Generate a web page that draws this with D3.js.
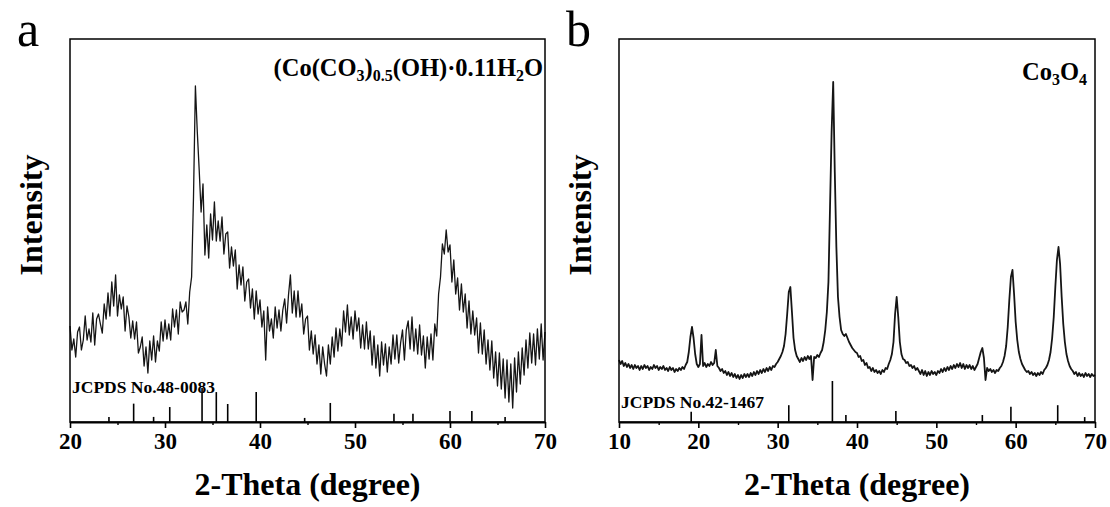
<!DOCTYPE html>
<html>
<head>
  <meta charset="UTF-8">
  <style>
    body { margin: 0; background: #fff; }
    svg { display: block; }
    text { font-family: "Liberation Serif", "Times New Roman", serif; fill: #000; }
    .tick text { font-weight: bold; font-size: 23px; }
  </style>
</head>
<body>
<svg></svg>
<script src="https://d3js.org/d3.v7.min.js"></script>
<script>

let width = 1110, height = 507;

// XRD scan of panel a, 20-70 deg, step 0.2 (one row = 2 deg)
const startA = 20, stepA = 0.2;
const intensityA = [
  96,72,83,65,90,95,72,82,106,82,
  93,80,109,77,103,108,98,89,118,103,
  129,106,140,116,147,106,127,113,125,91,
  116,105,84,101,83,100,69,75,85,56,
  75,49,81,62,86,60,81,71,100,81,
  102,83,98,82,113,95,112,88,120,110,
  112,120,98,130,145,225,336,290,252,210,
  238,167,197,164,208,182,220,181,201,181,
  205,168,188,190,154,175,156,172,133,157,
  137,155,121,140,143,114,133,103,131,108,
  122,95,111,62,115,91,103,84,115,94,
  112,91,112,123,99,127,147,109,131,105,
  131,105,118,88,103,106,72,91,68,87,
  58,77,48,75,58,46,77,58,85,65,
  94,71,93,76,111,90,117,87,105,83,
  111,91,104,74,97,73,100,73,91,57,
  86,54,77,46,80,57,78,50,75,58,
  87,63,87,59,79,92,62,92,101,73,
  105,71,93,68,97,67,86,54,85,63,
  88,62,98,86,128,145,178,168,192,170,
  177,140,162,128,144,112,138,110,128,94,
  121,88,111,87,104,69,99,68,92,58,
  82,52,81,44,70,36,69,33,63,24,
  62,20,58,14,64,30,70,38,74,47,
  82,54,89,59,88,57,93,63,98,62,
  90
];

// XRD scan of panel b, 10-70 deg, step 0.2
const startB = 10, stepB = 0.2;
const intensityB = [
  62,58,61,56,59,55,58,54,57,53,
  57,54,56,52,56,53,57,54,56,52,
  55,53,57,54,56,52,55,53,56,52,
  54,51,55,52,54,50,53,51,54,52,
  55,53,57,60,70,85,95,84,68,58,
  55,58,87,56,59,55,58,56,60,57,
  59,72,56,54,51,53,49,51,47,50,
  46,49,45,48,44,47,43,47,44,48,
  45,48,45,49,46,50,47,51,48,52,
  49,53,50,54,51,55,52,56,55,58,
  60,63,66,70,76,88,108,130,135,110,
  84,72,66,63,60,64,61,65,62,66,
  63,66,42,65,64,67,65,69,72,80,
  92,110,140,215,290,340,250,175,125,105,
  92,88,86,88,84,80,77,74,72,70,
  69,65,66,61,62,57,59,54,55,51,
  54,50,52,49,51,48,52,50,54,53,
  58,62,68,80,108,125,105,80,68,63,
  62,59,60,56,57,54,56,52,54,51,
  48,52,47,51,46,50,47,51,48,50,
  47,51,49,53,50,54,51,55,52,56,
  53,57,54,58,55,59,54,58,53,57,
  54,57,53,56,52,55,58,64,70,74,
  64,42,54,51,53,50,52,49,52,51,
  54,56,60,66,76,95,122,145,152,128,
  100,82,70,63,58,55,52,50,51,48,
  50,47,49,46,49,47,50,48,52,54,
  57,62,70,84,105,135,162,175,158,125,
  98,80,68,61,56,53,51,48,50,46,
  49,46,48,45,49,46,48,45,48,46,
  47
];

// reference patterns (relative intensity, %)
const refA = [24.1, 26.7, 28.8, 30.5, 33.9, 35.4, 36.6, 39.6, 44.7, 47.4, 54.1, 56.1, 60.0, 62.3, 65.8];
const refAI = [15, 54, 15, 44, 100, 88, 53, 88, 12, 56, 24, 24, 32, 32, 15];
const refB = [19.1, 31.4, 36.9, 38.6, 44.9, 55.8, 59.4, 65.3, 68.7];
const refBI = [25, 41, 100, 17, 27, 17, 37, 41, 12];

const panels = [
  { letter: "a", xDomain: [20, 70], left: 70, right: 545, start: startA, step: stepA, values: intensityA,
    lw: 1.3, ref: refA, refI: refAI, refH: 34, card: "JCPDS No.48-0083", cardY: 393 },
  { letter: "b", xDomain: [10, 70], left: 619, right: 1095, start: startB, step: stepB, values: intensityB,
    lw: 1.8, ref: refB, refI: refBI, refH: 41, card: "JCPDS No.42-1467", cardY: 408 }
];

const plotTop = 39, plotBottom = 422;

let svg = d3.select("svg")
    .attr("width", width)
    .attr("height", height);

panels.forEach(p => {
    let x = d3.scaleLinear().domain(p.xDomain).range([p.left, p.right]);
    let y = d3.scaleLinear().domain([0, plotBottom - plotTop]).range([plotBottom, plotTop]);
    let s = d3.scaleLinear().domain([0, 100]).range([plotBottom, plotBottom - p.refH]);

    let g = svg.append("g");
    let pts = p.values.map((v, i) => [p.start + i * p.step, v]);

    g.append("path")
        .datum(pts)
        .attr("fill", "none")
        .attr("stroke", "#151515")
        .attr("stroke-width", p.lw)
        .attr("stroke-linejoin", "round")
        .attr("d", d3.line().x(d => x(d[0])).y(d => y(d[1])));

    // reference sticks
    g.append("g").selectAll("line")
        .data(p.ref)
        .join("line")
        .attr("x1", d => x(d)).attr("x2", d => x(d))
        .attr("y1", plotBottom)
        .attr("y2", (d, i) => s(p.refI[i]))
        .attr("stroke", "#000")
        .attr("stroke-width", 1.6);

    g.append("text")
        .attr("x", p.left + 2)
        .attr("y", p.cardY)
        .attr("font-weight", "bold")
        .attr("font-size", 17.5)
        .text(p.card);

    // frame
    g.append("rect")
        .attr("x", p.left).attr("y", plotTop)
        .attr("width", p.right - p.left).attr("height", plotBottom - plotTop)
        .attr("fill", "none")
        .attr("stroke", "#000")
        .attr("stroke-width", 1.5);

    let xAxis = g.append("g")
        .attr("transform", "translate(0," + plotBottom + ")")
        .call(d3.axisBottom(x).tickValues(d3.range(p.xDomain[0], 71, 10)).tickSize(6).tickSizeOuter(0).tickPadding(5));
    xAxis.select(".domain").attr("stroke-width", 1.8);
    xAxis.selectAll(".tick line").attr("stroke-width", 1.6);

    let minor = g.append("g")
        .attr("transform", "translate(0," + plotBottom + ")")
        .call(d3.axisBottom(x).tickValues(d3.range(p.xDomain[0] + 5, 70, 10)).tickSize(3).tickFormat(""));
    minor.select(".domain").remove();
    minor.selectAll(".tick line").attr("stroke-width", 1.4);

    g.append("text")
        .attr("x", (p.left + p.right) / 2)
        .attr("y", 495)
        .attr("text-anchor", "middle")
        .attr("font-weight", "bold")
        .attr("font-size", 32)
        .text("2-Theta (degree)");

    g.append("text")
        .attr("transform", "translate(" + (p.left - 28) + ",215) rotate(-90)")
        .attr("text-anchor", "middle")
        .attr("font-weight", "bold")
        .attr("font-size", 32)
        .text("Intensity");

    g.append("text")
        .attr("x", p.left - 53)
        .attr("y", 46)
        .attr("font-size", 50)
        .text(p.letter);
});

// sample names with subscripts
function formula(xr, yb, parts) {
    let t = svg.append("text")
        .attr("x", xr).attr("y", yb)
        .attr("text-anchor", "end")
        .attr("font-weight", "bold")
        .attr("font-size", 24.5);
    parts.forEach(([str, sub]) => {
        let ts = t.append("tspan").text(str);
        if (sub) ts.attr("font-size", 16).attr("baseline-shift", "-30%");
    });
}
formula(543, 76, [["(Co(CO"], ["3", 1], [")"], ["0.5", 1], ["(OH)\u00b70.11H"], ["2", 1], ["O"]]);
formula(1087, 80, [["Co"], ["3", 1], ["O"], ["4", 1]]);

</script>
</body>
</html>
